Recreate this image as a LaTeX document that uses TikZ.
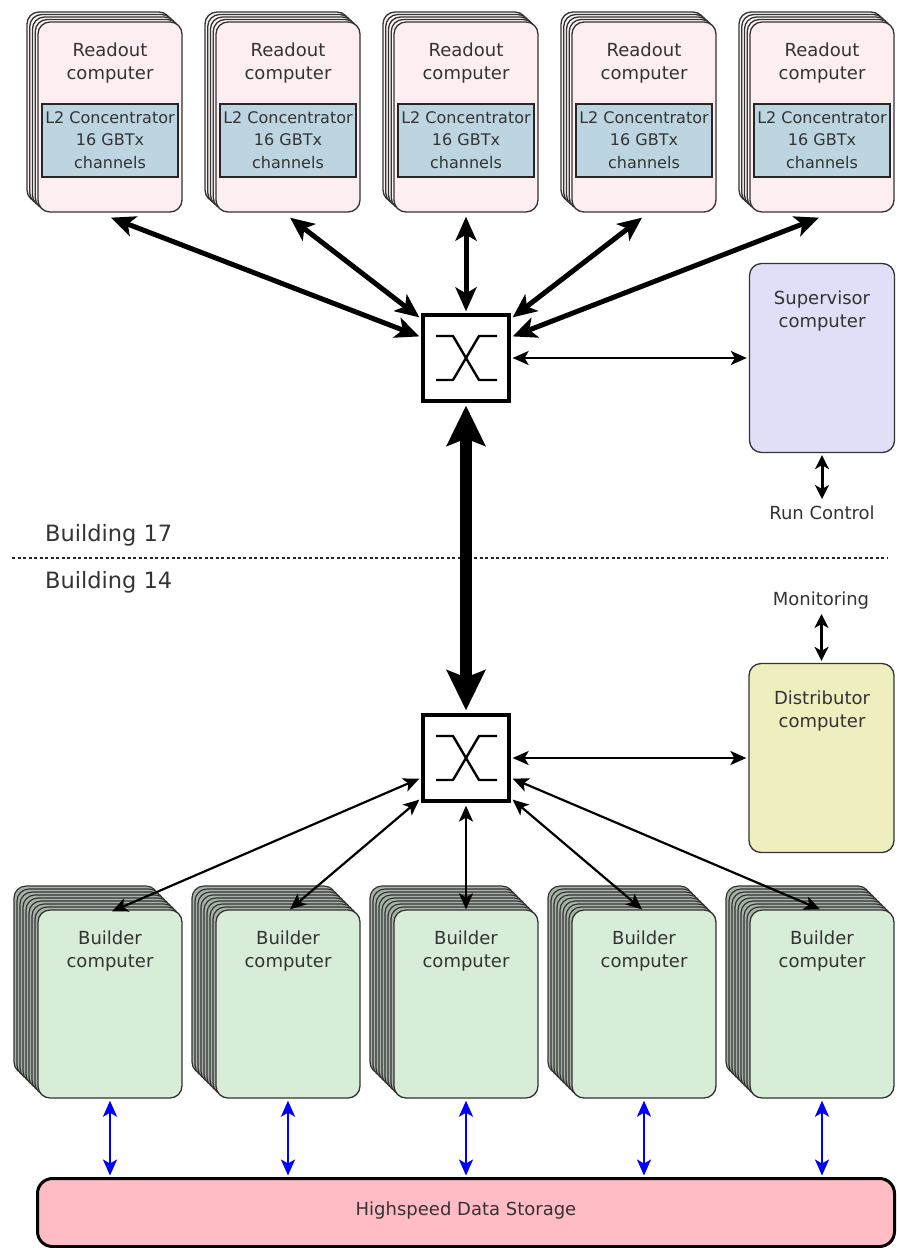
\documentclass[tikz,border=0pt]{standalone}
\usepackage{fontspec}
\setmainfont{DejaVu Sans}
\usetikzlibrary{arrows.meta,calc}
\definecolor{readoutfill}{HTML}{FDEFF1}
\definecolor{concfill}{HTML}{BDD5E1}
\definecolor{superfill}{HTML}{DFE0F7}
\definecolor{distfill}{HTML}{EEEEBF}
\definecolor{buildfill}{HTML}{D7EDD7}
\definecolor{storefill}{HTML}{FFBCC4}
\definecolor{txt}{HTML}{333333}
\tikzset{
  boxline/.style={draw=black!80, line width=1.3pt, rounded corners=12pt},
  readout/.style={boxline, fill=readoutfill, minimum width=144pt, minimum height=190pt, inner sep=0pt},
  readlayer/.style={boxline, fill=readoutfill!60!white},
  buildlayer/.style={boxline, line width=1.2pt, fill=buildfill!70!black!85},
  builder/.style={boxline, fill=buildfill, minimum width=144pt, minimum height=188pt, inner sep=0pt},
  conc/.style={draw=black!85, line width=1.3pt, fill=concfill, minimum width=136pt, minimum height=73pt, inner sep=0pt},
  lbl/.style={text=txt, font=\fontsize{18}{23}\selectfont, align=center, inner sep=0pt},
  clbl/.style={text=txt, font=\fontsize{16}{22.5}\selectfont, align=center, inner sep=0pt},
  sidebox/.style={boxline, minimum width=145pt, minimum height=189pt, inner sep=0pt},
  switchbox/.style={draw=black, line width=3.2pt, fill=white, minimum size=86pt, inner sep=0pt},
  thickarr/.style={line width=5pt, {Stealth[length=24pt,width=21pt,inset=6pt]}-{Stealth[length=24pt,width=21pt,inset=6pt]}},
  thinarr/.style={line width=2.2pt, {Stealth[length=16pt,width=14pt,inset=4pt]}-{Stealth[length=16pt,width=14pt,inset=4pt]}},
  shortarr/.style={line width=3pt, {Stealth[length=14pt,width=14pt,inset=4pt]}-{Stealth[length=14pt,width=14pt,inset=4pt]}},
  bigarr/.style={line width=12pt, {Stealth[length=40pt,width=38pt,inset=7pt]}-{Stealth[length=40pt,width=38pt,inset=7pt]}},
  bluearr/.style={draw=blue, line width=2.5pt, {Stealth[length=16pt,width=14pt,inset=4pt]}-{Stealth[length=16pt,width=14pt,inset=4pt]}},
}
\begin{document}
\begin{tikzpicture}[x=1pt,y=-1pt]
\useasboundingbox (0,0) rectangle (897,1248);

% Readout stacks
\foreach \cx [count=\i] in {110,288,466,644,822} {
  \foreach \k in {4,3,2,1}
    \draw[readlayer] ({\cx-72-2.75*\k},{22-2.5*\k}) rectangle ++(144,190);
  \node[readout] (r\i) at (\cx,117) {};
  \node[lbl] (rt\i) at (\cx,63.5) {Readout\\computer};
  \node[conc] (c\i) at (\cx,140.5) {};
  \node[clbl] (ct\i) at (\cx,140) {L2 Concentrator\\16 GBTx\\channels};
}

% Builder stacks
\foreach \cx [count=\i] in {110,288,466,644,822} {
  \foreach \k in {8,7,...,1}
    \draw[buildlayer] ({\cx-72-3*\k},{910-3*\k}) rectangle ++(144,188);
  \node[builder] (b\i) at (\cx,1004) {};
  \node[lbl] (bt\i) at (\cx,951) {Builder\\computer};
}

% Switches
\foreach \n/\cy in {sw1/358, sw2/758} {
  \node[switchbox] (\n) at (466,\cy) {};
  \draw[line width=2.4pt] ($(\n)+(-30,-22)$) -- ++(17,0) -- ($(\n)+(13,22)$) -- ++(18,0);
  \draw[line width=2.4pt] ($(\n)+(-30,22)$) -- ++(17,0) -- ($(\n)+(13,-22)$) -- ++(18,0);
}

% Side boxes
\node[sidebox, fill=superfill] (sup) at (822,358) {};
\node[lbl] (supt) at (822,311) {Supervisor\\computer};
\node[sidebox, fill=distfill] (dist) at (821.5,758) {};
\node[lbl] (distt) at (822,711) {Distributor\\computer};

\node[lbl] (run) at (822,513) {Run Control};
\node[lbl] (mon) at (821,601) {Monitoring};

% Storage
\node[draw=black, line width=3pt, rounded corners=15pt, fill=storefill, minimum width=857pt, minimum height=68pt, inner sep=0pt] (store) at (466,1212.5) {};
\node[lbl] (storet) at (466,1211) {Highspeed Data Storage};

% Building separator
\coordinate (dl) at (12,558);
\coordinate (dr) at (888,558);
\draw[line width=1.1pt, dash pattern=on 3pt off 2.5pt, black!85] (dl) -- (dr);
\node[text=txt, font=\fontsize{22.5}{26}\selectfont, anchor=west, inner sep=0pt] (b17) at (45,535) {Building 17};
\node[text=txt, font=\fontsize{22.5}{26}\selectfont, anchor=west, inner sep=0pt] (b14) at (45,582) {Building 14};

% Readout to switch 1
\draw[thickarr] ($(r1.south)+(1,5)$) -- ($(sw1.north west)+(-2,23)$);
\draw[thickarr] ($(r2.south)+(2,5)$) -- ($(sw1.north west)+(-2,4)$);
\draw[thickarr] ($(r3.south)+(0,4)$) -- ($(sw1.north)+(0,-2)$);
\draw[thickarr] ($(r4.south)+(-2,5)$) -- ($(sw1.north east)+(2,4)$);
\draw[thickarr] ($(r5.south)+(-3,5)$) -- ($(sw1.north east)+(2,23)$);

% Switch to supervisor
\draw[thinarr] ($(sw1.east)+(2,0)$) -- ($(sup.west)+(-2,0)$);
\draw[shortarr] ($(sup.south)+(0,2)$) -- (run.north|-0,499);

% Switch to switch
\draw[bigarr] ($(sw1.south)+(0,3)$) -- ($(sw2.north)+(0,-3)$);

% Switch 2 to distributor
\draw[thinarr] ($(sw2.east)+(2,0)$) -- ($(dist.west)+(-2,0)$);
\draw[shortarr] (dist.north|-0,614) -- ($(dist.north)+(0,-2)$);

% Switch 2 to builders
\draw[thinarr] ($(sw2.south west)+(-2,-24)$) -- ($(b1.north)+(2,2)$);
\draw[thinarr] ($(sw2.south west)+(-2,-3)$) -- ($(b2.north)+(2,0)$);
\draw[thinarr] ($(sw2.south)+(0,3)$) -- ($(b3.north)+(0,0)$);
\draw[thinarr] ($(sw2.south east)+(2,-3)$) -- ($(b4.north)+(-2,0)$);
\draw[thinarr] ($(sw2.south east)+(2,-24)$) -- ($(b5.north)+(-2,0)$);

% Builders to storage
\foreach \i in {1,...,5}
  \draw[bluearr] ($(b\i.south)+(0,2)$) -- ($(b\i.south|-store.north)+(0,-1.5)$);
\end{tikzpicture}
\end{document}
